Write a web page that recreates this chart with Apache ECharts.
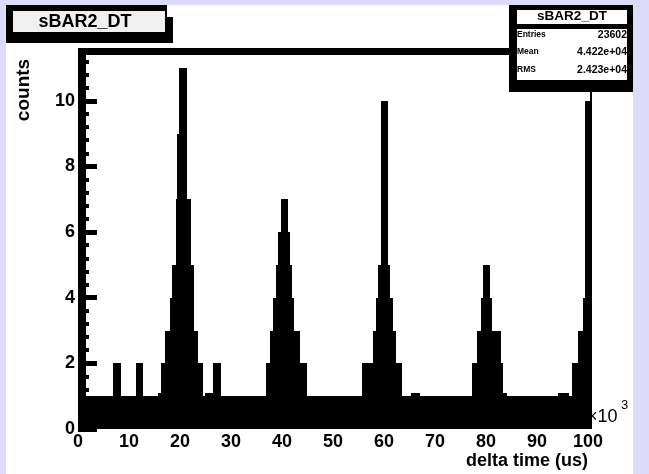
<!DOCTYPE html>
<html>
<head>
<meta charset="utf-8">
<script src="https://cdn.jsdelivr.net/npm/echarts@6/dist/echarts.min.js"></script>
<style>
html, body { margin: 0; padding: 0; background: #ffffff; }
#chart { width: 649px; height: 474px; }
</style>
</head>
<body>
<div id="chart"></div>
<script>
// sBAR2_DT histogram: bin edges in units of 10^3 us, one count per bin
const binEdges = [0, 6.9, 8.4, 11.4, 12.8, 15.6, 16.3, 17.0, 18.0, 18.4,
  19.2, 19.5, 19.9, 21.3, 22.1, 22.8, 23.6, 24.6, 25.0, 26.5,
  28.0, 36.9, 37.6, 38.3, 38.8, 39.2, 39.8, 41.2, 41.6, 42.0,
  42.4, 43.5, 44.9, 55.7, 57.9, 58.4, 58.9, 59.4, 60.8, 61.2,
  61.7, 62.3, 63.5, 65.3, 67.1, 77.2, 78.2, 79.0, 79.4, 80.8,
  81.2, 82.9, 83.4, 84.2, 94.2, 96.3, 96.8, 98.1, 99.1, 99.4, 100.8];
const counts = [1, 2, 1, 2, 1, 1.1, 2, 3, 4, 5,
  7, 9, 11, 7, 5, 3, 2, 1, 1.1, 2,
  1, 2, 3, 4, 5, 6, 7, 6, 5, 4,
  3, 2, 1, 2, 3, 4, 5, 10, 5, 4,
  3, 2, 1, 1.1, 1, 2, 3, 4, 5, 4,
  3, 2, 1.1, 1, 1.1, 1, 2, 3, 4, 10];
const xTicks = [0, 10, 20, 30, 40, 50, 60, 70, 80, 90, 100];
const yTicks = [0, 2, 4, 6, 8, 10];
const xRange = [0, 100.8];
const yRange = [0, 11.55];

// statistics box
const histName = 'sBAR2_DT';
const statLabels = ['Entries', 'Mean', 'RMS'];
const statValues = ['23602', '4.422e+04', '2.423e+04'];

const bins = counts.map((c, i) => [binEdges[i], binEdges[i + 1], c]);

const FONT = '"Liberation Sans", Arial, Helvetica, sans-serif';
const LAV = '#dcdcf8';

const chart = echarts.init(document.getElementById('chart'), null, { renderer: 'canvas', width: 649, height: 474 });

const isTick = (list, v) => list.some(t => Math.abs(t - v) < 1e-6);

const option = {
  animation: false,
  backgroundColor: '#ffffff',
  grid: { left: 78, top: 50, right: 57, bottom: 45, containLabel: false, outerBoundsMode: 'none' },
  xAxis: {
    type: 'value', min: xRange[0], max: xRange[1], interval: 10,
    axisLine: { show: false }, axisTick: { show: false }, splitLine: { show: false },
    axisLabel: {
      formatter: v => isTick(xTicks, v) ? String(Math.round(v)) : '',
      color: '#000', fontSize: 18, fontWeight: 'bold', fontFamily: FONT, margin: 4
    }
  },
  yAxis: {
    type: 'value', min: yRange[0], max: yRange[1], interval: 2,
    axisLine: { show: false }, splitLine: { show: false },
    axisTick: { show: true, inside: true, length: 19, lineStyle: { color: '#000', width: 5 } },
    minorTick: { show: true, splitNumber: 5, length: 11, lineStyle: { color: '#000', width: 4 } },
    axisLabel: {
      formatter: v => isTick(yTicks, v) ? String(Math.round(v)) : '',
      color: '#000', fontSize: 18, fontWeight: 'bold', fontFamily: FONT, margin: 3
    }
  },
  series: [{
    type: 'custom',
    coordinateSystem: 'cartesian2d',
    clip: true,
    data: bins,
    encode: { x: [0, 1], y: 2 },
    renderItem: function (params, api) {
      // snap bin edges to whole pixels so neighbouring bins join without seams
      const top = api.coord([api.value(0), api.value(2)]);
      const base = api.coord([api.value(1), 0]);
      const x0 = Math.round(top[0]), x1 = Math.round(base[0]);
      const y0 = Math.round(top[1]), y1 = Math.round(base[1]);
      return {
        type: 'rect',
        shape: { x: x0, y: y0, width: x1 - x0, height: y1 - y0 },
        style: { fill: '#000' }
      };
    }
  }],
  graphic: [
    // canvas border around the pad
    { type: 'rect', z: 200, shape: { x: 0, y: 0, width: 6, height: 474 }, style: { fill: LAV } },
    { type: 'rect', z: 200, shape: { x: 0, y: 0, width: 649, height: 5 }, style: { fill: LAV } },
    { type: 'rect', z: 200, shape: { x: 633, y: 0, width: 16, height: 474 }, style: { fill: LAV } },
    // frame edges
    { type: 'rect', z: 150, shape: { x: 78, y: 48, width: 8, height: 381 }, style: { fill: '#000' } },
    { type: 'rect', z: 150, shape: { x: 78, y: 48, width: 514, height: 7 }, style: { fill: '#000' } },
    { type: 'rect', z: 150, shape: { x: 590, y: 50, width: 2, height: 379 }, style: { fill: '#000' } },
    // title pave
    { type: 'rect', z: 210, shape: { x: 6, y: 5, width: 161, height: 32 }, style: { fill: '#000' } },
    { type: 'rect', z: 210, shape: { x: 6, y: 17, width: 167, height: 26 }, style: { fill: '#000' } },
    { type: 'rect', z: 211, shape: { x: 13, y: 11, width: 152, height: 21 }, style: { fill: '#f0f0f0' } },
    { type: 'text', z: 212, x: 85, y: 22, style: { text: histName, font: 'bold 18px ' + FONT, fill: '#000', textAlign: 'center', textVerticalAlign: 'middle' } },
    // statistics pave
    { type: 'rect', z: 210, shape: { x: 509, y: 5, width: 124, height: 87 }, style: { fill: '#000' } },
    { type: 'rect', z: 211, shape: { x: 517, y: 10, width: 110, height: 14 }, style: { fill: '#fff' } },
    { type: 'rect', z: 211, shape: { x: 517, y: 29, width: 110, height: 51 }, style: { fill: '#fff' } },
    { type: 'text', z: 212, x: 572, y: 16, style: { text: histName, font: 'bold 13.5px ' + FONT, fill: '#000', textAlign: 'center', textVerticalAlign: 'middle' } },
    ...statLabels.map((t, i) => ({ type: 'text', z: 212, x: 517, y: [35, 52, 70][i], style: { text: t, font: 'bold 8.5px ' + FONT, fill: '#000', textAlign: 'left', textVerticalAlign: 'middle' } })),
    ...statValues.map((t, i) => ({ type: 'text', z: 212, x: 627, y: [35, 52, 70][i], style: { text: t, font: 'bold 10.5px ' + FONT, fill: '#000', textAlign: 'right', textVerticalAlign: 'middle' } })),
    // axis titles
    { type: 'text', z: 212, x: 24, y: 90, rotation: Math.PI / 2, style: { text: 'counts', font: 'bold 19px ' + FONT, fill: '#000', textAlign: 'center', textVerticalAlign: 'middle' } },
    { type: 'text', z: 212, x: 588, y: 461, style: { text: 'delta time (us)', font: 'bold 18px ' + FONT, fill: '#000', textAlign: 'right', textVerticalAlign: 'middle' } },
    { type: 'text', z: 140, x: 587, y: 417, style: { text: '\u00d710', font: '18px ' + FONT, fill: '#000', textAlign: 'left', textVerticalAlign: 'middle' } },
    { type: 'text', z: 140, x: 621, y: 405, style: { text: '3', font: '13px ' + FONT, fill: '#000', textAlign: 'left', textVerticalAlign: 'middle' } }
  ]
};

chart.setOption(option);
</script>
</body>
</html>
